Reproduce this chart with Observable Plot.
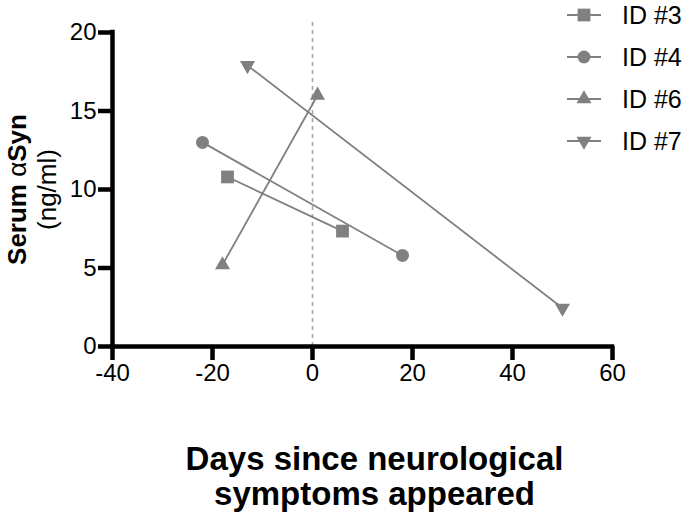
<!DOCTYPE html>
<html>
<head>
<meta charset="utf-8">
<script src="https://cdn.jsdelivr.net/npm/d3@7"></script>
<script src="https://cdn.jsdelivr.net/npm/@observablehq/plot@0.6"></script>
<style>
  html, body { margin: 0; padding: 0; background: #fff; }
  #wrap { position: relative; width: 685px; height: 514px; font-family: "Liberation Sans", Arial, sans-serif; }
  #legend { position: absolute; left: 566px; top: 0; }
  .row { position: absolute; left: 0; height: 30px; display: flex; align-items: center; white-space: nowrap; }
  .row svg { display: block; }
  .row span { font-size: 25px; color: #000; margin-left: 20px; }
</style>
</head>
<body>
<div id="wrap"></div>
<script>
const ids = ["ID #3", "ID #4", "ID #6", "ID #7"];
const symbols = ["square", "circle", "triangle", "triangle-down"];
const firstDay = [-17, -22, -18, -13];
const firstValue = [10.8, 13.0, 5.2, 17.9];
const secondDay = [6, 18, 1, 50];
const secondValue = [7.35, 5.8, 16.0, 2.45];
const xTicks = [-40, -20, 0, 20, 40, 60];
const yTicks = [0, 5, 10, 15, 20];

const gray = "#808080";
const rows = [];
ids.forEach((id, i) => {
  rows.push({id, symbol: symbols[i], day: firstDay[i], value: firstValue[i]});
  rows.push({id, symbol: symbols[i], day: secondDay[i], value: secondValue[i]});
});
const rSize = {"square": 7.2, "circle": 6.5, "triangle": 5.6, "triangle-down": 5.6};

const dotMarks = symbols.map(s => Plot.dot(rows.filter(d => d.symbol === s), {
  x: "day", y: "value",
  symbol: s === "triangle-down" ? "triangle" : s,
  rotate: s === "triangle-down" ? 180 : 0,
  r: rSize[s], fill: gray, stroke: "none"
}));

const axisW = 4.5;
const chart = Plot.plot({
  width: 685, height: 514,
  marginLeft: 112, marginRight: 73, marginTop: 32, marginBottom: 168,
  style: {fontFamily: "'Liberation Sans', Arial, sans-serif", fontSize: "24px", color: "#000", background: "#fff"},
  x: {domain: [-40, 60]},
  y: {domain: [0, 20]},
  marks: [
    Plot.ruleX([0], {y1: 0, y2: 20.65, stroke: "#a6a6a6", strokeWidth: 1.6, strokeDasharray: "4,4"}),
    Plot.line(rows, {x: "day", y: "value", z: "id", stroke: gray, strokeWidth: 1.8}),
    ...dotMarks,
    Plot.axisX({ticks: xTicks, tickSize: 14, tickPadding: 3, strokeWidth: axisW, label: null, tickFormat: d => String(d), fontSize: 24}),
    Plot.axisY({ticks: yTicks, tickSize: 14, tickPadding: 2, strokeWidth: axisW, label: null, tickFormat: d => String(d), fontSize: 24}),
    Plot.ruleY([0], {stroke: "#000", strokeWidth: axisW, strokeLinecap: "square"}),
    Plot.ruleX([-40], {stroke: "#000", strokeWidth: axisW, strokeLinecap: "square"}),
    Plot.text(["Days since neurological\nsymptoms appeared"], {frameAnchor: "bottom", textAnchor: "middle", dx: 12, dy: 130, fontWeight: "bold", fontSize: 33, lineHeight: 1.05, lineAnchor: "middle", fill: "#000"}),
    Plot.text(["Serum α Syn"], {frameAnchor: "left", textAnchor: "middle", dx: -95, rotate: -90, fontWeight: "bold", fontSize: 26, lineAnchor: "middle", fill: "#000"}),
    Plot.text(["(ng/ml)"], {frameAnchor: "left", textAnchor: "middle", dx: -65, rotate: -90, fontSize: 26, lineAnchor: "middle", fill: "#000"})
  ]
});
const wrap = document.getElementById("wrap");
wrap.appendChild(chart);

// lighter alpha glyph, as in the reference (symbol-font α)
d3.select(chart).selectAll("text").filter(function() { return this.textContent === "Serum α Syn"; })
  .each(function() {
    const t = d3.select(this);
    t.text(null);
    t.append("tspan").text("Serum ");
    t.append("tspan").attr("font-weight", "normal").text("α");
    t.append("tspan").text("Syn");
  });

// legend
const legend = document.createElement("div");
legend.id = "legend";
wrap.appendChild(legend);
const legendY = [15, 57, 99, 141];
const symMap = {"square": d3.symbolSquare, "circle": d3.symbolCircle, "triangle": d3.symbolTriangle, "triangle-down": d3.symbolTriangle};
ids.forEach((id, i) => {
  const row = document.createElement("div");
  row.className = "row";
  row.style.top = (legendY[i] - 15) + "px";
  const s = symbols[i];
  const svg = d3.create("svg").attr("width", 36).attr("height", 30);
  svg.append("line").attr("x1", 1).attr("x2", 35).attr("y1", 15).attr("y2", 15).attr("stroke", gray).attr("stroke-width", 1.8);
  svg.append("path")
    .attr("d", d3.symbol(symMap[s], Math.PI * rSize[s] * rSize[s])())
    .attr("transform", `translate(18,15) rotate(${s === "triangle-down" ? 180 : 0})`)
    .attr("fill", gray);
  row.appendChild(svg.node());
  const t = document.createElement("span");
  t.textContent = id;
  row.appendChild(t);
  legend.appendChild(row);
});
</script>
</body>
</html>
